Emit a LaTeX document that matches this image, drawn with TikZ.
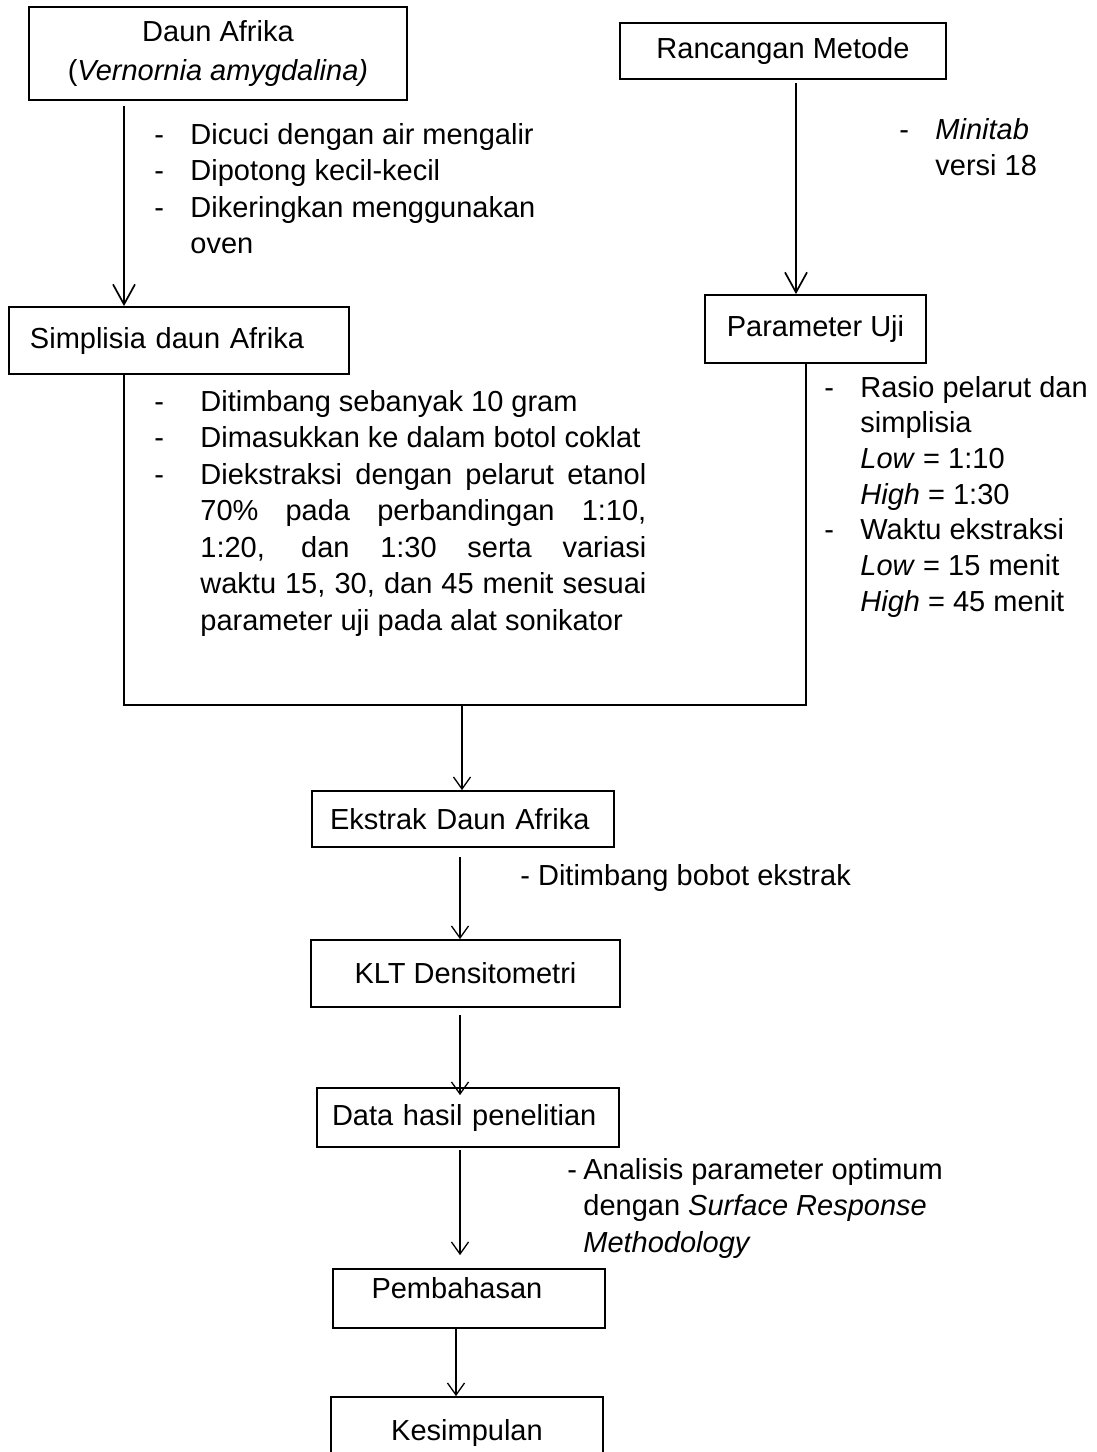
\documentclass[tikz,border=0pt]{standalone}
\usepackage{fontspec}
\setmainfont{Liberation Sans}
\usetikzlibrary{arrows.meta}
\setlength\parindent{0pt}

\begin{document}
\begin{tikzpicture}[x=0.5pt,y=-0.5pt,
  font=\fontsize{14.5}{18.25}\selectfont,
  box/.style={draw, line width=0.9pt, inner sep=0pt},
  arrbig/.style={line width=0.85pt, -{Straight Barb[length=10pt,width=11pt]}},
  arr/.style={line width=0.65pt, -{Straight Barb[length=6pt,width=8.5pt]}},
  txt/.style={inner sep=0pt, anchor=base west}]
\useasboundingbox (0,0) rectangle (1097,1452);

% left column
\node[box, align=center, minimum width=189pt, minimum height=46.5pt] (daun) at (218,53.5) {Daun Afrika\\[1.25pt](\textit{Vernornia amygdalina)}};
\node[box, text width=149pt, inner xsep=10.5pt, minimum height=33.5pt] (simp) at (179,340.5) {Simplisia daun Afrika};

% right column
\node[box, minimum width=163pt, minimum height=28pt] (ranc) at (783,51) {Rancangan Metode};
\node[box, minimum width=110.5pt, minimum height=34pt] (param) at (815.5,329) {Parameter Uji};

% middle column
\node[box, text width=133pt, inner xsep=9pt, minimum height=28pt] (ekstrak) at (463,819) {Ekstrak Daun Afrika};
\node[box, minimum width=154.5pt, minimum height=33.5pt] (klt) at (465.5,973.5) {KLT Densitometri};
\node[box, text width=136pt, inner xsep=7.5pt, minimum height=29.5pt] (data) at (468,1117.5) {Data hasil penelitian};
\node[box, text width=97.5pt, inner xsep=19.25pt, minimum height=29.5pt, text height=11pt, text depth=11pt] (pemb) at (469,1298.5) {Pembahasan};
\node[box, minimum width=136pt, minimum height=36pt] (kes) at (467,1433) {Kesimpulan};

% notes beside the arrows
\node[txt] (cuci) at (154,144) {\begin{tabular}[t]{@{}p{18pt}@{}l@{}}
 - & Dicuci dengan air mengalir\\
 - & Dipotong kecil-kecil\\
 - & Dikeringkan menggunakan\\
   & oven
\end{tabular}};
\node[txt] (timbang) at (154,411) {\begin{tabular}[t]{@{}p{23pt}@{}p{223pt}@{}}
 - & Ditimbang sebanyak 10 gram\\
 - & Dimasukkan ke dalam botol coklat\\
 - & Diekstraksi dengan pelarut etanol\linebreak
     70\% pada perbandingan 1:10,\linebreak
     1:20, dan 1:30 serta variasi\linebreak
     waktu 15, 30, dan 45 menit sesuai\linebreak
     parameter uji pada alat sonikator
\end{tabular}};
\node[txt] (minitab) at (899,139) {\begin{tabular}[t]{@{}p{18pt}@{}l@{}}
 - & \textit{Minitab}\\
   & versi 18
\end{tabular}};
\node[txt, font=\fontsize{14.5}{17.85}\selectfont] (rasio) at (824,397) {\begin{tabular}[t]{@{}p{18pt}@{}l@{}}
 - & Rasio pelarut dan\\
   & simplisia\\
   & \textit{Low} = 1:10\\
   & \textit{High} = 1:30\\
 - & Waktu ekstraksi\\
   & \textit{Low} = 15 menit\\
   & \textit{High} = 45 menit
\end{tabular}};
\node[txt] (bobot) at (520,885) {- Ditimbang bobot ekstrak};
\node[txt] (rsm) at (567,1179) {\begin{tabular}[t]{@{}p{8pt}@{}l@{}}
 - & Analisis parameter optimum\\
   & dengan \textit{Surface Response}\\
   & \textit{Methodology}
\end{tabular}};

% x of the vertical connectors
\coordinate (lx) at (124,705); % left corner
\coordinate (rx) at (806,705); % right corner
\coordinate (mx) at (462,705); % down to ekstrak
\coordinate (rr) at (796,0);
\coordinate (cx) at (460,0);
\coordinate (cy) at (456,0);

\draw[arrbig, shorten <=2.5pt] (daun.south -| lx) -- (simp.north -| lx);
\draw[arrbig, shorten <=1.5pt] (ranc.south -| rr) -- (param.north -| rr);
\draw[line width=0.65pt] (simp.south -| lx) -- (lx) -- (rx) -- (param.south -| rx);
\draw[arr] (mx) -- (ekstrak.north -| mx);
\draw[arr, shorten <=4.5pt] (ekstrak.south -| cx) -- (klt.north -| cx);
\draw[arr, shorten <=3.5pt, shorten >=-4pt] (klt.south -| cx) -- (data.north -| cx);
\draw[arr, shorten <=1pt, shorten >=6.5pt] (data.south -| cx) -- (pemb.north -| cx);
\draw[arr] (pemb.south -| cy) -- (kes.north -| cy);
\end{tikzpicture}
\end{document}
